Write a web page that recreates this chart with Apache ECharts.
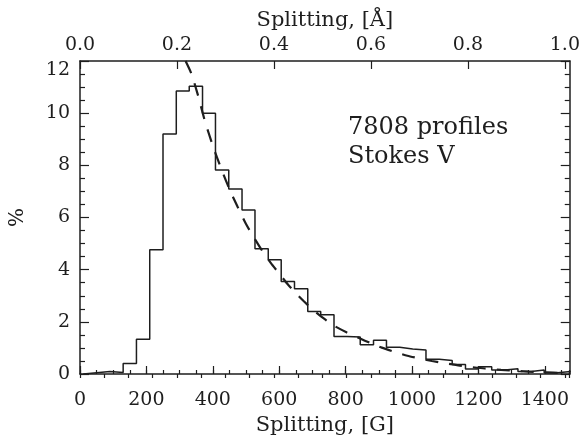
<!DOCTYPE html>
<html>
<head>
<meta charset="utf-8">
<script src="https://cdn.jsdelivr.net/npm/echarts@6/dist/echarts.min.js"></script>
<style>
  html, body { margin: 0; padding: 0; background: #fff; }
  #chart { width: 583px; height: 441px; }
</style>
</head>
<body>
<div id="chart"></div>
<script>
// histogram bin edges [G] and percentages
var binEdges = [10, 50, 90, 130, 170, 210, 250, 290, 329, 369, 408, 448, 488, 527, 567,
    606, 646, 686, 725, 765, 804, 844, 884, 923, 963, 1002, 1042, 1082, 1121, 1161,
    1200, 1240, 1280, 1319, 1359, 1398, 1438, 1478];
var binValues = [0.05, 0.1, 0.06, 0.4, 1.33, 4.76, 9.2, 10.85, 11.03, 10.0, 7.82, 7.09,
    6.29, 4.8, 4.38, 3.55, 3.27, 2.40, 2.27, 1.44, 1.42, 1.12, 1.29, 1.03, 0.96, 0.92,
    0.57, 0.52, 0.36, 0.19, 0.28, 0.15, 0.2, 0.1, 0.15, 0.05, 0.1];

// dashed fit curve
var fitG = [318, 336, 355, 375, 400, 426, 451, 475, 500, 525, 550, 575, 600, 625, 650,
    675, 700, 733, 765, 804, 842, 874, 909, 949, 986, 1028, 1060, 1105, 1144, 1183,
    1219, 1268, 1318, 1352, 1387, 1426, 1456, 1475];
var fitPct = [12.0, 11.5, 10.7, 9.75, 8.75, 7.85, 7.06, 6.4, 5.75, 5.21, 4.7, 4.25, 3.85,
    3.45, 3.1, 2.78, 2.48, 2.14, 1.85, 1.59, 1.37, 1.19, 1.01, 0.84, 0.70, 0.58, 0.50,
    0.40, 0.32, 0.26, 0.21, 0.16, 0.12, 0.09, 0.07, 0.05, 0.03, 0.02];

var bottomTicks = [0, 200, 400, 600, 800, 1000, 1200, 1400];
var topTicks = [0.0, 0.2, 0.4, 0.6, 0.8, 1.0];
var yTicks = [0, 2, 4, 6, 8, 10, 12];

var ink = '#1e1e1e';
var font = 'DejaVu Serif';

// step outline of the histogram
var histData = [[binEdges[0], 0]];
for (var i = 0; i < binValues.length; i++) {
    histData.push([binEdges[i], binValues[i]]);
    histData.push([binEdges[i + 1], binValues[i]]);
}
var fitData = [];
for (var j = 0; j < fitG.length; j++) {
    fitData.push([fitG[j], fitPct[j]]);
}

var gMax = 1475;
var aMax = 1.01;

function axisBase(pos, min, max, interval) {
    return {
        type: 'value',
        position: pos,
        min: min,
        max: max,
        interval: interval,
        splitLine: { show: false },
        axisLine: { show: true, onZero: false, lineStyle: { color: ink, width: 1.5 } },
        axisTick: { show: true, inside: true, length: 8, lineStyle: { color: ink, width: 1.2 } },
        axisLabel: { show: false }
    };
}

var xBottom = axisBase('bottom', bottomTicks[0], gMax, bottomTicks[1] - bottomTicks[0]);
xBottom.axisLabel = {
    show: true, margin: 17, fontSize: 19, fontFamily: font, color: ink, showMaxLabel: false,
    formatter: function (v) { return String(Math.round(v)); }
};
xBottom.name = 'Splitting, [G]';
xBottom.nameLocation = 'middle';
xBottom.nameGap = 41;
xBottom.nameTextStyle = { fontSize: 21, fontFamily: font, color: ink };

var xBottomMinor = axisBase('bottom', 0, gMax, 50);
xBottomMinor.axisLine = { show: false };
xBottomMinor.axisTick.length = 4;

var xTop = axisBase('top', topTicks[0], aMax, 0.2);
xTop.axisLabel = {
    show: true, margin: 6, fontSize: 19, fontFamily: font, color: ink, showMaxLabel: false,
    formatter: function (v) { return v.toFixed(1); }
};
xTop.name = 'Splitting, [Å]';
xTop.nameLocation = 'middle';
xTop.nameGap = 22;
xTop.nameTextStyle = { fontSize: 21, fontFamily: font, color: ink };

var xTopMinor = axisBase('top', 0, aMax, 0.05);
xTopMinor.axisLine = { show: false };
xTopMinor.axisTick.length = 4;

function yAxisBase(pos, labels) {
    var a = axisBase(pos, yTicks[0], yTicks[yTicks.length - 1], 2);
    a.axisTick.length = 9;
    a.minorTick = { show: true, splitNumber: 4, length: 5, lineStyle: { color: ink, width: 1.2 } };
    if (labels) {
        a.axisLabel = {
            show: true, margin: 10, fontSize: 19, fontFamily: font, color: ink,
            verticalAlignMaxLabel: 'top'
        };
        a.name = '%';
        a.nameLocation = 'middle';
        a.nameGap = 52;
        a.nameTextStyle = { fontSize: 20, fontFamily: font, color: ink };
    }
    return a;
}

var myChart = echarts.init(document.getElementById('chart'));
var option = {
    backgroundColor: '#fff',
    animation: false,
    title: {
        text: '7808 profiles\nStokes V',
        left: 348,
        top: 113,
        padding: 0,
        textStyle: { fontSize: 24, fontWeight: 'normal', fontFamily: font, color: ink, lineHeight: 29 }
    },
    grid: { left: 80, right: 7, top: 61, bottom: 67, containLabel: false },
    xAxis: [xBottom, xBottomMinor, xTop, xTopMinor],
    yAxis: [yAxisBase('left', true), yAxisBase('right', false)],
    series: [
        {
            type: 'line',
            xAxisIndex: 0,
            yAxisIndex: 0,
            data: histData,
            symbol: 'none',
            lineStyle: { color: ink, width: 1.5 }
        },
        {
            type: 'line',
            xAxisIndex: 0,
            yAxisIndex: 0,
            data: fitData,
            symbol: 'none',
            smooth: 0.2,
            lineStyle: { color: ink, width: 2.2, type: [13, 11] }
        }
    ]
};
myChart.setOption(option);
</script>
</body>
</html>
